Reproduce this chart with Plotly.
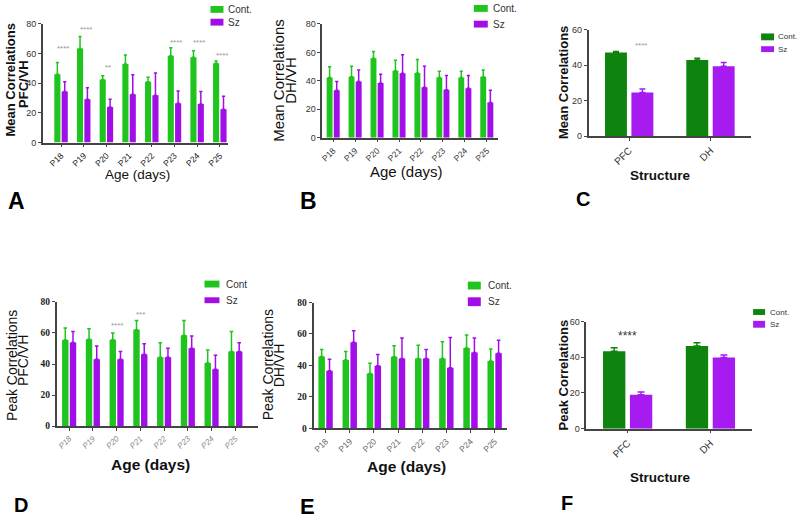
import plotly.graph_objects as go

# ---------------- data ----------------
ages = ["P18", "P19", "P20", "P21", "P22", "P23", "P24", "P25"]
structures = ["PFC", "DH"]

# A: Mean correlations PFC/VH
a_cont = [46.0, 63.5, 42.5, 53.0, 41.0, 58.5, 57.5, 53.5]
a_cont_sem = [8.0, 8.0, 2.5, 6.0, 3.0, 5.5, 4.5, 1.5]
a_sz = [34.4, 29.3, 24.0, 32.6, 32.0, 26.6, 26.0, 22.5]
a_sz_sem = [6.6, 7.7, 5.3, 13.2, 15.0, 8.2, 8.4, 8.8]
a_star_cats = ["P18", "P19", "P20", "P23", "P24", "P25"]
a_star_text = ["****", "****", "**", "****", "****", "****"]
a_star_y = [63.7, 76.4, 50.4, 67.8, 67.8, 58.8]

# B: Mean correlations DH/VH
b_cont = [42.3, 42.8, 55.9, 47.1, 45.5, 42.3, 42.3, 42.8]
b_cont_sem = [7.6, 7.5, 4.8, 7.4, 9.5, 4.4, 4.4, 4.8]
b_sz = [33.3, 39.5, 38.4, 45.3, 35.4, 33.8, 34.7, 24.8]
b_sz_sem = [6.2, 8.1, 6.2, 13.1, 14.9, 9.9, 9.0, 8.5]

# C: Mean correlations by structure
c_cont = [47.0, 42.9]
c_cont_sem = [0.7, 0.9]
c_sz = [24.5, 39.4]
c_sz_sem = [2.0, 2.0]

# D: Peak correlations PFC/VH
d_cont = [55.4, 56.0, 55.6, 62.1, 44.4, 58.5, 40.6, 48.0]
d_cont_sem = [7.8, 6.7, 4.4, 5.9, 9.3, 9.5, 8.4, 13.0]
d_sz = [53.9, 43.0, 43.0, 46.3, 44.4, 50.1, 36.6, 48.0]
d_sz_sem = [7.1, 8.6, 5.0, 6.7, 5.7, 8.0, 9.1, 5.7]
d_star_cats = ["P20", "P21"]
d_star_text = ["****", "***"]
d_star_y = [64.8, 71.6]

# E: Peak correlations DH/VH
e_cont = [45.7, 43.5, 34.9, 45.5, 44.5, 44.5, 51.1, 42.8]
e_cont_sem = [4.4, 5.4, 6.5, 7.1, 8.3, 10.6, 8.2, 7.7]
e_sz = [36.6, 54.7, 39.9, 44.5, 44.5, 38.5, 48.2, 47.8]
e_sz_sem = [7.3, 7.3, 7.1, 12.9, 5.6, 19.3, 9.2, 8.3]

# F: Peak correlations by structure
f_cont = [43.3, 46.3]
f_cont_sem = [2.0, 1.8]
f_sz = [19.0, 39.9]
f_sz_sem = [1.5, 1.4]

# ---------------- styling ----------------
W, H = 800, 523
GREEN = "#1fc41f"
PURPLE = "#a20ee8"
DGREEN = "#0e840e"
DPURPLE = "#a61cf0"
SANS = "Arial, Liberation Sans, sans-serif"
SERIF = "Times New Roman, Liberation Serif, serif"
AXC = "#444444"


def fx(px):
    return px / W


def fy(py):
    return 1 - py / H


fig = go.Figure()

panels = [
    dict(k="", cats=ages, c=a_cont, cs=a_cont_sem, s=a_sz, ss=a_sz_sem, g=GREEN, p=PURPLE,
         xd=(41, 227), yd=(140.3, 19.3), ymax=80, xr=[-0.8, 7.38], cap=1.6,
         tf=dict(family=SANS, size=8.5, color="#111"),
         yf=dict(family=SANS, size=9, color="#333")),
    dict(k="2", cats=ages, c=b_cont, cs=b_cont_sem, s=b_sz, ss=b_sz_sem, g=GREEN, p=PURPLE,
         xd=(321, 497), yd=(135.3, 19.3), ymax=80, xr=[-0.5, 7.5], cap=1.6,
         tf=dict(family=SANS, size=8.5, color="#333"),
         yf=dict(family=SANS, size=9, color="#333")),
    dict(k="3", cats=structures, c=c_cont, cs=c_cont_sem, s=c_sz, ss=c_sz_sem, g=DGREEN, p=DPURPLE,
         xd=(588, 751), yd=(133.7, 25), ymax=60, xr=[-0.5, 1.5], cap=3,
         tf=dict(family=SANS, size=10, color="#333"),
         yf=dict(family=SANS, size=9, color="#333")),
    dict(k="4", cats=ages, c=d_cont, cs=d_cont_sem, s=d_sz, ss=d_sz_sem, g=GREEN, p=PURPLE,
         xd=(54.7, 257), yd=(429.3, 302.7), ymax=80, xr=[-0.53, 7.97], cap=1.8,
         tf=dict(family=SANS, size=8, color="#888", style="italic"),
         yf=dict(family=SERIF, size=9.5, color="#222", weight="bold")),
    dict(k="5", cats=ages, c=e_cont, cs=e_cont_sem, s=e_sz, ss=e_sz_sem, g=GREEN, p=PURPLE,
         xd=(312.3, 506), yd=(431.7, 303.3), ymax=80, xr=[-0.5, 7.5], cap=1.8,
         tf=dict(family=SANS, size=8.5, color="#666"),
         yf=dict(family=SERIF, size=9.5, color="#222", weight="bold")),
    dict(k="6", cats=structures, c=f_cont, cs=f_cont_sem, s=f_sz, ss=f_sz_sem, g=DGREEN, p=DPURPLE,
         xd=(585.7, 751.7), yd=(432, 322.7), ymax=60, xr=[-0.5, 1.5], cap=3.5,
         tf=dict(family=SANS, size=10, color="#333"),
         yf=dict(family=SANS, size=9, color="#333")),
]

layout_axes = {}
for pn in panels:
    xa = "x" + pn["k"]
    ya = "y" + pn["k"]
    for vals, sem, col, name in ((pn["c"], pn["cs"], pn["g"], "Cont."), (pn["s"], pn["ss"], pn["p"], "Sz")):
        fig.add_trace(go.Bar(
            x=pn["cats"], y=vals, name=name, xaxis=xa, yaxis=ya, showlegend=False,
            marker=dict(color=col, line=dict(width=0)),
            error_y=dict(type="data", symmetric=False, array=sem, arrayminus=[0] * len(sem),
                         color=col, thickness=1.5, width=pn["cap"]),
        ))
    layout_axes["xaxis" + pn["k"]] = dict(
        domain=[fx(pn["xd"][0]), fx(pn["xd"][1])], anchor=ya, type="category",
        range=pn["xr"], showline=True, linecolor=AXC, linewidth=1.5,
        ticks="outside", ticklen=3, tickcolor=AXC, tickwidth=1.2,
        tickangle=-45, tickfont=pn["tf"], showgrid=False, zeroline=False, fixedrange=True,
    )
    layout_axes["yaxis" + pn["k"]] = dict(
        domain=[fy(pn["yd"][0]), fy(pn["yd"][1])], anchor=xa,
        range=[0, pn["ymax"]], dtick=20, showline=True, linecolor=AXC, linewidth=1.5,
        ticks="outside", ticklen=3, tickcolor=AXC, tickwidth=1.2, tickfont=pn["yf"],
        showgrid=False, zeroline=False, fixedrange=True,
    )

fig.update_layout(
    width=W, height=H, margin=dict(l=0, r=0, t=0, b=0),
    paper_bgcolor="white", plot_bgcolor="white",
    barmode="group", bargap=0.35, bargroupgap=0.17,
    **layout_axes,
)

ann = []
shapes = []

# significance stars
for c, t, y in zip(a_star_cats, a_star_text, a_star_y):
    ann.append(dict(x=c, y=y, xref="x", yref="y", text=t, showarrow=False, xshift=2,
                    font=dict(family=SANS, size=8, color="#999")))
for c, t, y in zip(d_star_cats, d_star_text, d_star_y):
    ann.append(dict(x=c, y=y, xref="x4", yref="y4", text=t, showarrow=False,
                    font=dict(family=SANS, size=8, color="#999")))
ann.append(dict(x=structures[0], y=50.8, xref="x3", yref="y3", text="****", showarrow=False, xshift=12,
                font=dict(family=SANS, size=8, color="#999")))
ann.append(dict(x=structures[0], y=52.0, xref="x6", yref="y6", text="****", showarrow=False,
                font=dict(family=SANS, size=12, color="#333")))


def text(px, py, t, size, bold=False, angle=0, anchor="center", color="#111", family=SANS):
    ann.append(dict(x=fx(px), y=fy(py), xref="paper", yref="paper", text=t, showarrow=False,
                    textangle=angle, xanchor=anchor, yanchor="middle", borderpad=0,
                    font=dict(family=family, size=size, color=color,
                              weight="bold" if bold else "normal")))


# y axis titles (one annotation per line, for tight line spacing)
text(9, 76, "Mean Correlations", 13, bold=True, angle=-90)
text(21.5, 80, "PFC/VH", 13, bold=True, angle=-90)
text(277, 77, "Mean Correlations", 15, angle=-90)
text(289, 77, "DH/VH", 15, angle=-90)
text(563, 79, "Mean Correlations", 13, bold=True, angle=-90)
text(10, 367, "Peak Correlations", 14, angle=-90)
text(21, 362, "PFC/VH", 14, angle=-90)
text(267, 367, "Peak Correlations", 14, angle=-90)
text(278, 367, "DH/VH", 14, angle=-90)
text(563, 377, "Peak Correlations", 13, bold=True, angle=-90)

# x axis titles
text(136, 173, "Age (days)", 13.5)
text(406, 170, "Age (days)", 15)
text(660, 174, "Structure", 13.5, bold=True)
text(149, 468, "Age (days)", 15.5, bold=True)
text(406, 470, "Age (days)", 15.5, bold=True)
text(660, 482, "Structure", 13.5, bold=True)

# panel letters
for lt, px, py, sz in (("A", 15, 200, 23), ("B", 307, 200, 23), ("C", 582, 198, 20),
                       ("D", 19, 510, 20), ("E", 306, 511, 22), ("F", 566, 508, 20)):
    text(px, py, lt, sz, bold=True, color="#000")

# legends (swatch + label)
legends = [
    (209, 222, (1, 8), (14, 21), 226, 10, GREEN, PURPLE, "Cont."),
    (473, 487, (0, 7), (16, 23), 491, 10, GREEN, PURPLE, "Cont."),
    (761, 774, (29, 36), (42, 48), 777, 8, DGREEN, DPURPLE, "Cont."),
    (203, 218, (281, 288), (298, 304), 224, 10, GREEN, PURPLE, "Cont"),
    (467, 480, (282, 290), (298, 307), 486, 10, GREEN, PURPLE, "Cont."),
    (753, 765, (310, 316), (322, 329), 769, 8, DGREEN, DPURPLE, "Cont."),
]
for x0, x1, yg, yp, tx, sz, gc, pc, lab in legends:
    for (yt, yb), col, t in ((yg, gc, lab), (yp, pc, "Sz")):
        shapes.append(dict(type="rect", xref="paper", yref="paper", x0=fx(x0), x1=fx(x1),
                           y0=fy(yb), y1=fy(yt), fillcolor=col, line=dict(width=0)))
        text(tx, (yt + yb) / 2, t, sz, anchor="left", color="#333")

fig.update_layout(annotations=ann, shapes=shapes)
fig.write_html(
    "out.html",
    config={"displayModeBar": False},
    post_script="document.body.style.margin='0';document.body.style.overflow='hidden';",
)
